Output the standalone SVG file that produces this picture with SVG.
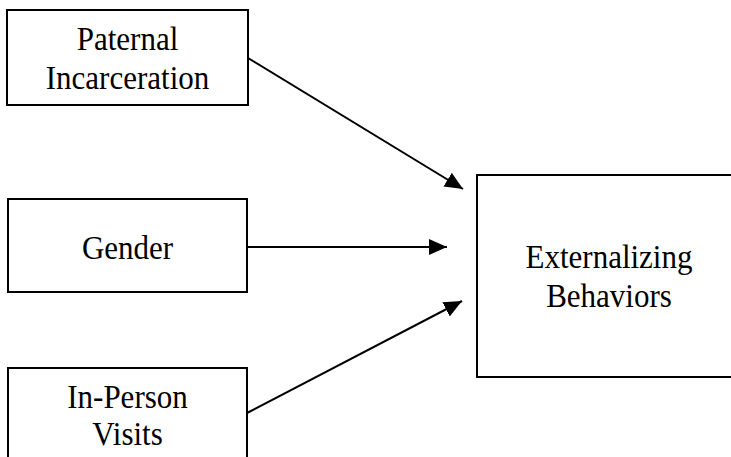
<svg xmlns="http://www.w3.org/2000/svg" width="731" height="457" viewBox="0 0 731 457">
<defs>
<style>
.box{fill:#fff;stroke:#000;stroke-width:2}
.lbl{font-family:"Liberation Serif","Times New Roman",serif;font-size:31px;fill:#000;text-anchor:middle}
.edge{stroke:#000;stroke-width:2;fill:none;marker-end:url(#ah)}
</style>
<marker id="ah" markerUnits="userSpaceOnUse" markerWidth="19" markerHeight="17" refX="18" refY="8" orient="auto">
<path d="M0,0 L18,8 L0,16 Z" fill="#000"/>
</marker>
</defs>
<rect width="731" height="457" fill="#fff"/>
<g id="paternal">
<rect class="box" x="7" y="10" width="241" height="95"/>
<text class="lbl" transform="translate(127.5,50) scale(1,1.07)">Paternal</text>
<text class="lbl" transform="translate(127.5,89) scale(1,1.07)">Incarceration</text>
</g>
<g id="gender">
<rect class="box" x="8" y="199" width="239" height="93"/>
<text class="lbl" transform="translate(127.5,259) scale(1,1.07)">Gender</text>
</g>
<g id="visits">
<rect class="box" x="8" y="368" width="239" height="110"/>
<text class="lbl" transform="translate(127.5,408) scale(1,1.07)">In-Person</text>
<text class="lbl" transform="translate(127.5,445) scale(1,1.07)">Visits</text>
</g>
<g id="externalizing">
<rect class="box" x="477" y="175" width="280" height="202"/>
<text class="lbl" transform="translate(609,268) scale(1,1.07)">Externalizing</text>
<text class="lbl" transform="translate(609,307) scale(1,1.07)">Behaviors</text>
</g>
<g id="connectors">
<line class="edge" x1="248" y1="58" x2="463" y2="189"/>
<line class="edge" x1="247" y1="247" x2="447" y2="247"/>
<line class="edge" x1="247" y1="413" x2="462" y2="301"/>
</g>
</svg>
